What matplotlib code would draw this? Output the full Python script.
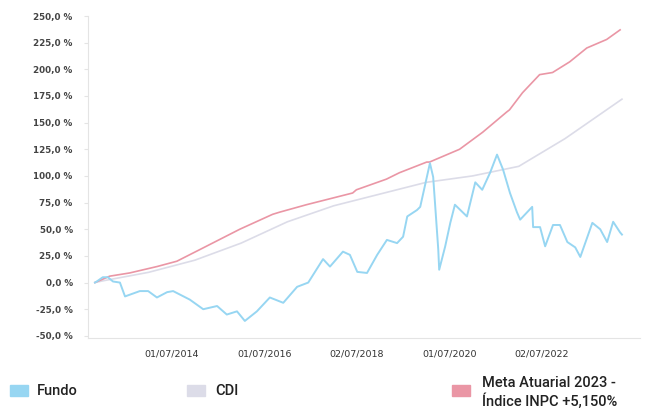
import matplotlib.pyplot as plt
from matplotlib.patches import Rectangle

# data (x in decimal years)
fundo_x = [2012.84, 2012.88, 2013.01, 2013.12, 2013.23, 2013.38, 2013.49, 2013.81, 2013.99,
           2014.18, 2014.40, 2014.53, 2014.89, 2015.18, 2015.48, 2015.69, 2015.91, 2016.08,
           2016.34, 2016.62, 2016.91, 2017.21, 2017.45, 2017.77, 2017.92, 2018.20, 2018.35,
           2018.51, 2018.72, 2018.94, 2019.15, 2019.37, 2019.50, 2019.59, 2019.80, 2019.87,
           2020.08, 2020.15, 2020.26, 2020.28, 2020.41, 2020.52, 2020.62, 2020.88, 2021.06,
           2021.21, 2021.38, 2021.53, 2021.66, 2021.81, 2021.96, 2022.03, 2022.29, 2022.31,
           2022.46, 2022.57, 2022.74, 2022.89, 2023.05, 2023.22, 2023.33, 2023.59, 2023.76,
           2023.91, 2024.04, 2024.19, 2024.23]
fundo_y = [0, 1, 5, 5, 1, 0, -13, -8, -8,
           -14, -9, -8, -16, -25, -22, -30, -27, -36,
           -27, -14, -19, -4, 0, 22, 15, 29, 26,
           10, 9, 26, 40, 37, 43, 62, 68, 71,
           112, 99, 31, 12, 34, 56, 73, 62, 94,
           87, 103, 120, 106, 84, 66, 59, 71, 52,
           52, 34, 54, 54, 38, 33, 24, 56, 50,
           38, 57, 47, 45]

cdi_x = [2012.84, 2013.0, 2014.0, 2015.0, 2016.0, 2017.0, 2018.0, 2019.0, 2020.0,
         2021.0, 2022.0, 2023.0, 2024.23]
cdi_y = [0, 1.5, 9.6, 21, 37, 57, 72, 83, 94, 100, 109, 135, 172]

meta_x = [2012.84, 2013.16, 2013.59, 2014.18, 2014.61, 2015.11, 2015.97, 2016.68, 2016.83,
          2017.41, 2018.41, 2018.49, 2019.14, 2019.42, 2020.01, 2020.07, 2020.72, 2021.22,
          2021.74, 2021.80, 2022.08, 2022.45, 2022.73, 2023.10, 2023.47, 2023.90, 2024.19]
meta_y = [0, 6, 9, 15, 20, 31, 50, 64, 66,
          73, 84, 87, 97, 103, 113, 113, 125, 141,
          160, 162, 178, 195, 197, 207, 220, 228, 237]

tick_years = [2014.5, 2016.5, 2018.5, 2020.5, 2022.5]
tick_labels = ["01/07/2014", "01/07/2016", "02/07/2018", "01/07/2020", "02/07/2022"]
y_ticks = [250, 225, 200, 175, 150, 125, 100, 75, 50, 25, 0, -25, -50]

c_fundo = "#97d6f2"
c_cdi = "#dcdce8"
c_meta = "#ea96a5"

fig = plt.figure(figsize=(6.55, 4.08), dpi=100)
ax = fig.add_axes([88 / 655, 1 - 338 / 408, 552 / 655, 322 / 408])

ax.plot(cdi_x, cdi_y, color=c_cdi, lw=1.2)
ax.plot(meta_x, meta_y, color=c_meta, lw=1.2)
ax.plot(fundo_x, fundo_y, color=c_fundo, lw=1.4)

ax.set_xlim(2012.69, 2024.62)
ax.set_ylim(-52, 250)
ax.set_yticks(y_ticks)
ax.set_yticklabels([f"{v:.1f}".replace(".", ",") + " %" for v in y_ticks],
                   fontweight="bold")
ax.set_xticks(tick_years)
ax.set_xticklabels(tick_labels)
ax.tick_params(axis="y", labelsize=6.3, colors="#e4e4e4", labelcolor="#444444", length=3, pad=8)
ax.tick_params(axis="x", labelsize=6.8, labelcolor="#333333", length=0, pad=8)

for s in ["top", "right"]:
    ax.spines[s].set_visible(False)
for s in ["left", "bottom"]:
    ax.spines[s].set_color("#e4e4e4")

# legend drawn by hand, it sits at the bottom of the picture
leg_font = dict(family="Roboto", fontsize=10.5, fontweight="medium", color="#222222")
entries = [(10, c_fundo, "Fundo", 37), (187, c_cdi, "CDI", 215), (452, c_meta, None, 482)]
for px, col, label, tx in entries:
    fig.add_artist(Rectangle((px / 655, 1 - 396 / 408), 18 / 655, 11 / 408,
                             transform=fig.transFigure, color=col))
    if label:
        fig.text(tx / 655, 1 - 391 / 408, label, va="center", **leg_font)
fig.text(482 / 655, 1 - 383 / 408, "Meta Atuarial 2023 -", va="center", **leg_font)
fig.text(482 / 655, 1 - 401 / 408, "Índice INPC +5,150%", va="center", **leg_font)

fig.savefig("out.png", dpi=100)
